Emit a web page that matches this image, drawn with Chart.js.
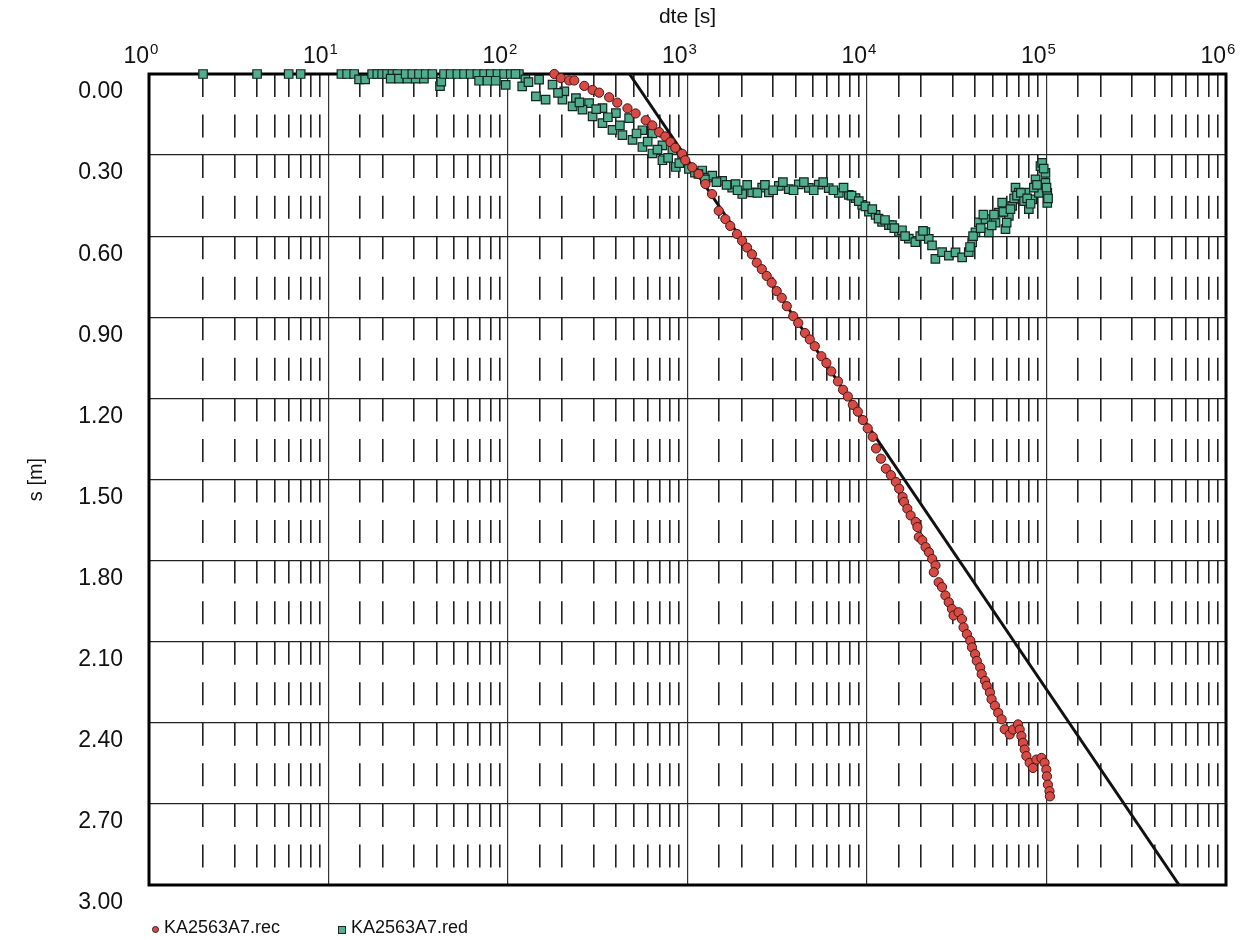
<!DOCTYPE html>
<html lang="en">
<head>
<meta charset="UTF-8">
<title>KA2563A7 drawdown</title>
<script src="https://cdn.jsdelivr.net/npm/chart.js@4"></script>
<style>
  html, body { margin: 0; padding: 0; background: #fff; }
  #wrap { position: relative; width: 1248px; height: 940px; }
  .leg { position: absolute; top: 917px; font: 18px "Liberation Sans", Arial, sans-serif; color: #111; white-space: nowrap; }
  .leg i { position: absolute; top: 9px; border: 1px solid #222; box-sizing: border-box; }
  .leg .dot { left: -12px; width: 7px; height: 7px; border-radius: 50%; background: #d84a44; }
  .leg .sq  { left: -13px; width: 8px; height: 8px; background: #52b08f; }
</style>
</head>
<body>
<div id="wrap">
  <canvas id="graf" width="1248" height="940"></canvas>
  <div class="leg" style="left:164px"><i class="dot"></i>KA2563A7.rec</div>
  <div class="leg" style="left:351px"><i class="sq"></i>KA2563A7.red</div>
</div>

<script>
/* ---------- data ---------- */
// dte [s] / s [m]  - KA2563A7.rec (red circles)
const recTime = [181, 197, 219, 234, 266, 296, 322, 366, 406, 463, 514, 585, 637, 695, 752, 803, 855, 933, 971,
  1062, 1153, 1259, 1370, 1493, 1625, 1730, 1888, 2014, 2147, 2287, 2432, 2594, 2762, 2944, 3141, 3350, 3573,
  3882, 4140, 4510, 4800, 5118, 5570, 5940, 6325, 6890, 7350, 7820, 8340, 8890, 9480, 10090, 10760, 11230,
  11960, 12740, 13590, 14480, 15110, 15780, 16080, 16780, 17500, 18670, 19090, 19450, 20320, 21200, 22130,
  23080, 24080, 23560, 25070, 26180, 27340, 28530, 29740, 30340, 32360, 33810, 34510, 36030, 37590, 38450,
  40000, 40900, 42700, 43550, 45460, 46460, 48400, 49440, 51600, 53810, 56240, 58520, 62380, 65110, 69390,
  70920, 72490, 74020, 75600, 77230, 80590, 84070, 87820, 93720, 97550, 99770, 100500, 101800, 103900, 104500];
const recDraw = [0.00, 0.015, 0.024, 0.024, 0.044, 0.059, 0.069, 0.086, 0.106, 0.127, 0.146, 0.171, 0.190, 0.215,
  0.231, 0.252, 0.273, 0.295, 0.319, 0.345, 0.370, 0.407, 0.444, 0.506, 0.537, 0.562, 0.592, 0.617, 0.642, 0.667,
  0.698, 0.722, 0.747, 0.772, 0.803, 0.828, 0.859, 0.896, 0.921, 0.958, 0.982, 1.007, 1.044, 1.069, 1.100, 1.137,
  1.168, 1.193, 1.224, 1.249, 1.280, 1.311, 1.342, 1.385, 1.423, 1.460, 1.484, 1.509, 1.534, 1.565, 1.583, 1.608,
  1.633, 1.657, 1.676, 1.713, 1.725, 1.750, 1.769, 1.794, 1.818, 1.843, 1.880, 1.898, 1.929, 1.954, 1.979, 2.003,
  1.991, 2.016, 2.047, 2.072, 2.096, 2.121, 2.146, 2.171, 2.195, 2.220, 2.245, 2.263, 2.288, 2.313, 2.337, 2.363,
  2.387, 2.424, 2.443, 2.425, 2.406, 2.425, 2.449, 2.474, 2.499, 2.523, 2.548, 2.567, 2.536, 2.530, 2.548, 2.573,
  2.598, 2.629, 2.653, 2.672];

// KA2563A7.red (green squares)
const redTime = [2, 4, 6, 7, 11.8, 12.7, 13.9, 14.8, 16, 17.5, 18.7, 19.9, 21.2, 22.7, 24.2, 22.2, 24.7, 27.5,
  30.6, 34, 26.9, 29.3, 31.9, 34.8, 37.9, 41.8, 42.5, 44, 47.9, 52.2, 56.9, 61.9, 67.5, 73.6, 80.1, 87.3, 95.1,
  103.6, 69, 76.8, 85.4, 97.1, 115,
  110, 125, 149, 177, 206, 239, 283, 336, 399, 473, 561, 638, 725, 824, 933,
  120, 143, 162, 201, 229, 260, 296, 336, 382, 434, 494, 561, 638, 725, 861,
  130, 190, 250, 310, 360, 420, 520, 600, 680, 780, 900,
  1018, 1100, 1208, 1300, 1374, 1560, 1774, 1853, 2018, 2290, 2605, 2840, 3226, 3665, 4168, 4740, 5383, 6120,
  6966, 7925, 8630, 9400, 10250, 11170, 12130, 13250, 13780, 15070, 15660, 17090, 18590, 21140, 22080, 23030,
  1150, 1250, 1450, 1650, 1900, 2150, 2450, 2700, 3000, 3400, 3900, 4450, 5050, 5700, 6500, 7400, 8200, 9000,
  9800, 10700, 11600, 12600, 14200, 16300, 19800, 20500,
  24040, 26200, 28560, 31120, 33880, 36900, 38540, 40200, 41980, 45710, 47740, 52000, 54250, 56620, 59080,
  61680, 64400, 67200, 70150, 73180, 76360, 79740, 83240, 86890, 90690, 92560, 94600, 98650, 98650, 101000, 101000,
  37500, 39000, 43000, 44500, 49500, 51000, 57500, 60000, 63000, 66000, 68500, 72000, 75000, 78000, 81500,
  85000, 88500, 96500, 100000, 102000];
const redDraw = [0, 0, 0, 0, 0, 0, 0, 0.02, 0.02, 0, 0, 0, 0, 0, 0, 0.017, 0.017, 0.017,
  0.017, 0.017, 0, 0, 0, 0, 0, 0.045, 0.028, 0, 0, 0, 0, 0, 0, 0, 0, 0, 0,
  0, 0.025, 0.025, 0.025, 0.04, 0,
  0, 0.02, 0.021, 0.039, 0.064, 0.089, 0.108, 0.126, 0.145, 0.163, 0.208, 0.22, 0.264, 0.282, 0.307,
  0.046, 0.083, 0.095, 0.095, 0.12, 0.132, 0.157, 0.182, 0.207, 0.226, 0.244, 0.27, 0.294, 0.319, 0.344,
  0.03, 0.07, 0.105, 0.13, 0.16, 0.19, 0.22, 0.25, 0.28, 0.31, 0.33,
  0.351, 0.365, 0.357, 0.383, 0.376, 0.395, 0.42, 0.407, 0.444, 0.438, 0.42, 0.438, 0.414, 0.426, 0.408, 0.421,
  0.409, 0.422, 0.44, 0.447, 0.459, 0.484, 0.509, 0.521, 0.547, 0.559, 0.559, 0.584, 0.578, 0.609, 0.622, 0.585,
  0.61, 0.634,
  0.37, 0.39, 0.40, 0.41, 0.43, 0.41, 0.44, 0.41, 0.43, 0.40, 0.43, 0.40, 0.43, 0.40, 0.43, 0.42, 0.45, 0.47,
  0.49, 0.50, 0.535, 0.54, 0.57, 0.60, 0.60, 0.58,
  0.684, 0.659, 0.672, 0.66, 0.678, 0.659, 0.623, 0.586, 0.549, 0.537, 0.586, 0.55, 0.513, 0.476, 0.574,
  0.525, 0.488, 0.42, 0.439, 0.464, 0.439, 0.5, 0.464, 0.39, 0.44, 0.341, 0.329, 0.366, 0.403, 0.44, 0.477,
  0.64, 0.60, 0.57, 0.52, 0.56, 0.52, 0.51, 0.55, 0.50, 0.46, 0.45, 0.44, 0.47, 0.46, 0.48,
  0.42, 0.41, 0.35, 0.42, 0.46];

// straight-line fit (semi-log)
const fitTime = [475, 548000];
const fitDraw = [0, 3.0];

// axes
const xMin = 1, xMax = 1e6;
const xDecades = [1, 10, 100, 1000, 10000, 100000, 1000000];
const yMin = 0, yMax = 3, yStep = 0.3;

/* ---------- helpers ---------- */
const pts = (xs, ys) => xs.map((x, i) => ({ x, y: ys[i] }));
const isDecade = v => Math.abs(Math.log10(v) - Math.round(Math.log10(v))) < 1e-9;
const FONT = '"Liberation Sans", Arial, sans-serif';

/* marco grueso alrededor del área */
const frame = {
  id: 'frame',
  beforeDatasetsDraw(chart) {
    const { ctx, chartArea: a } = chart;
    ctx.save();
    ctx.strokeStyle = '#000';
    ctx.lineWidth = 3;
    ctx.strokeRect(a.left, a.top, a.right - a.left, a.bottom - a.top);
    ctx.restore();
  }
};

/* etiquetas 10^n con exponente elevado */
const powLabels = {
  id: 'powLabels',
  afterDraw(chart) {
    const { ctx } = chart;
    const sx = chart.scales.x;
    ctx.save();
    ctx.fillStyle = '#111';
    ctx.textBaseline = 'alphabetic';
    xDecades.forEach(v => {
      const px = sx.getPixelForValue(v);
      ctx.font = '23px ' + FONT;
      ctx.textAlign = 'right';
      ctx.fillText('10', px, 63);
      ctx.font = '15px ' + FONT;
      ctx.textAlign = 'left';
      ctx.fillText(String(Math.round(Math.log10(v))), px + 1, 54);
    });
    ctx.restore();
  }
};

new Chart(document.getElementById('graf'), {
  type: 'scatter',
  data: {
    datasets: [
      {
        label: 'KA2563A7.rec',
        data: pts(recTime, recDraw),
        pointStyle: 'circle',
        pointRadius: 4.6,
        pointBackgroundColor: '#d84a44',
        pointBorderColor: '#4a1414',
        pointBorderWidth: 1,
        clip: false,
        order: 0
      },
      {
        label: 'KA2563A7.red',
        data: pts(redTime, redDraw),
        pointStyle: 'rect',
        pointRadius: 6,
        pointBackgroundColor: '#4fae8e',
        pointBorderColor: '#15241e',
        pointBorderWidth: 1.2,
        clip: false,
        order: 1
      },
      {
        label: 'fit',
        data: pts(fitTime, fitDraw),
        showLine: true,
        pointRadius: 0,
        borderColor: '#111',
        borderWidth: 3,
        order: 2
      }
    ]
  },
  options: {
    responsive: false,
    animation: false,
    events: [],
    layout: { padding: { top: 0, left: 0, right: 22, bottom: 55 } },
    plugins: { legend: { display: false }, tooltip: { enabled: false } },
    scales: {
      x: {
        type: 'logarithmic',
        position: 'top',
        min: xMin,
        max: xMax,
        afterFit(s) { s.height = 74; },
        title: { display: true, text: 'dte [s]', color: '#111', font: { family: FONT, size: 21 }, padding: { top: 5 } },
        ticks: {
          autoSkip: false,
          maxRotation: 0,
          callback: () => ''        // the decade labels are drawn by powLabels
        },
        grid: {
          drawTicks: false,
          color: c => (c.tick && isDecade(c.tick.value)) ? '#333' : '#222',
          lineWidth: c => (c.tick && isDecade(c.tick.value)) ? 1.2 : 1.6
        },
        border: {
          display: false,
          dash: c => (c.tick && !isDecade(c.tick.value)) ? [23, 17.55] : []
        }
      },
      y: {
        type: 'linear',
        reverse: true,
        min: yMin,
        max: yMax,
        afterFit(s) { s.width = 149; },
        title: { display: true, text: 's [m]', color: '#111', font: { family: FONT, size: 20 }, padding: { top: 24 } },
        ticks: {
          stepSize: yStep,
          padding: 26,
          labelOffset: 18,
          color: '#111',
          font: { family: FONT, size: 23 },
          callback: v => v.toFixed(2)
        },
        grid: { drawTicks: false, color: '#222', lineWidth: 1.3 },
        border: { display: false }
      }
    }
  },
  plugins: [frame, powLabels]
});
</script>
</body>
</html>
